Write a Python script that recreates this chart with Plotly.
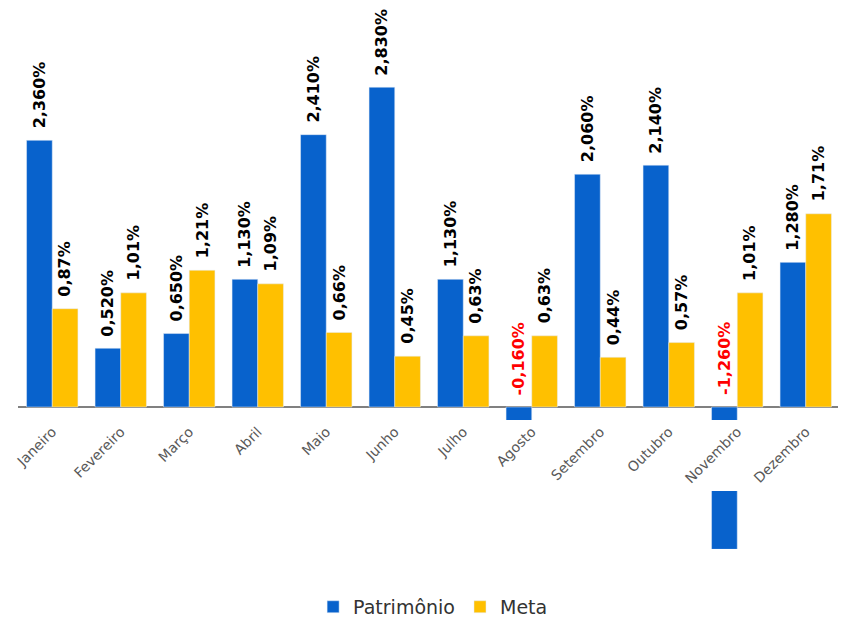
import plotly.graph_objects as go
from plotly.subplots import make_subplots

meses = ["Janeiro", "Fevereiro", "Março", "Abril", "Maio", "Junho", "Julho",
         "Agosto", "Setembro", "Outubro", "Novembro", "Dezembro"]
patrimonio = [2.36, 0.52, 0.65, 1.13, 2.41, 2.83, 1.13, -0.16, 2.06, 2.14, -1.26, 1.28]
meta = [0.87, 1.01, 1.21, 1.09, 0.66, 0.45, 0.63, 0.63, 0.44, 0.57, 1.01, 1.71]

azul = "#0862cc"
amarelo = "#FFC000"

# broken axis: top part is the main chart, bottom part shows the tail of Novembro
fig = make_subplots(rows=2, cols=1, shared_xaxes=True, vertical_spacing=0.0)

fig.add_trace(go.Bar(x=meses, y=patrimonio, name="Patrimônio", marker_color=azul), row=1, col=1)
fig.add_trace(go.Bar(x=meses, y=meta, name="Meta", marker_color=amarelo), row=1, col=1)
fig.add_trace(go.Bar(x=meses, y=patrimonio, marker_color=azul, showlegend=False), row=2, col=1)
fig.add_trace(go.Bar(x=meses, y=meta, marker_color=amarelo, showlegend=False), row=2, col=1)

# value labels
anns = []
for i, m in enumerate(meses):
    for v, dx, dec in [(patrimonio[i], -12.8, 3), (meta[i], 12.8, 2)]:
        txt = f"{v:.{dec}f}".replace(".", ",") + "%"
        anns.append(dict(
            x=m, y=max(v, 0), xref="x", yref="y", xshift=dx, yshift=10,
            text=txt, textangle=-90, showarrow=False, yanchor="bottom",
            font=dict(family="DejaVu Sans", size=16, weight="bold",
                      color="red" if v < 0 else "black"),
        ))

# page body has an 8px margin, so the figure is 8px smaller than the window
fig.update_layout(
    width=838, height=612,
    margin=dict(l=10, r=6, t=0, b=71, autoexpand=False),
    paper_bgcolor="white", plot_bgcolor="white",
    barmode="group", bargap=0.25, bargroupgap=0,
    annotations=anns,
    legend=dict(orientation="h", x=0.505, xanchor="center", y=-0.107, yanchor="middle",
                font=dict(family="DejaVu Sans", size=19, color="#333333")),
    font=dict(family="DejaVu Sans"),
)

fig.update_yaxes(domain=[129 / 541, 1], range=[-0.115, 3.531], visible=True,
                 showticklabels=False, showgrid=False, zeroline=True, automargin=False,
                 zerolinecolor="#808080", zerolinewidth=1.5, row=1, col=1)
fig.update_yaxes(domain=[0, 58 / 541], range=[-1.257, -0.743], showticklabels=False,
                 showgrid=False, zeroline=False, automargin=False, row=2, col=1)
fig.update_xaxes(showticklabels=True, tickangle=-45, showgrid=False, showline=False,
                 ticks="", automargin=False,
                 tickfont=dict(family="DejaVu Sans", size=14, color="#595959"),
                 row=1, col=1)
fig.update_xaxes(showticklabels=False, showgrid=False, showline=False, automargin=False,
                 row=2, col=1)

fig.write_html("out.html")
